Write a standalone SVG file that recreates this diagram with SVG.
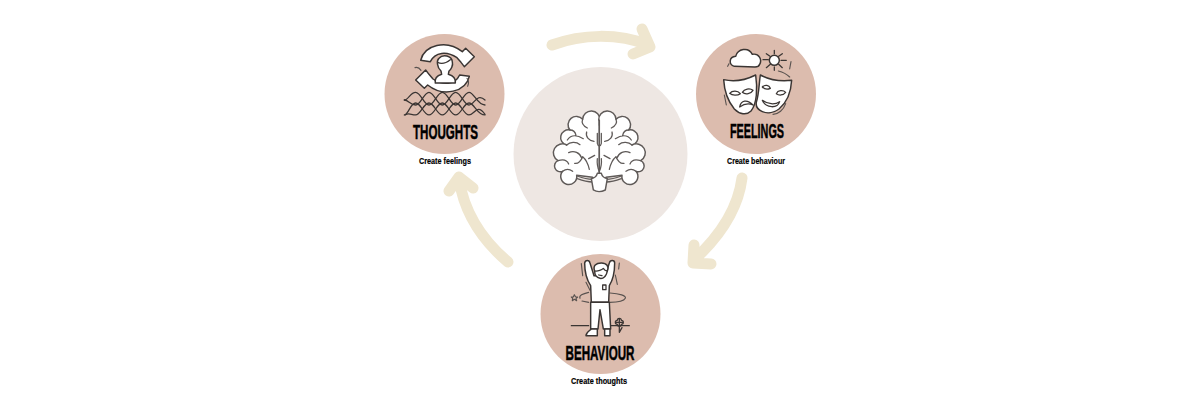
<svg xmlns="http://www.w3.org/2000/svg" xmlns:xlink="http://www.w3.org/1999/xlink" width="1200" height="400" viewBox="0 0 1200 400">
<style>
.disc{fill:#dcbcae}
.hub{fill:#eee7e3}
.flow{fill:none;stroke:#efe6cf;stroke-width:11;stroke-linecap:round;stroke-linejoin:round}
.ink{fill:#fff;stroke:#3a3533;stroke-width:4.4;stroke-linejoin:round;stroke-linecap:round}
.line{fill:none;stroke:#3a3533;stroke-width:3.8;stroke-linejoin:round;stroke-linecap:round}
.soft{fill:none;stroke:#5a5350;stroke-width:3.4;stroke-linecap:round;stroke-linejoin:round}
.brain{stroke:#5f5a58}
.title{font-family:"Liberation Sans Narrow","Liberation Sans",sans-serif;font-weight:700;font-size:20px;fill:#000;stroke:#000;stroke-width:.5;text-anchor:middle}
.sub{font-family:"Liberation Sans Narrow","Liberation Sans",sans-serif;font-weight:700;font-size:9.5px;fill:#000;stroke:#000;stroke-width:.2;text-anchor:middle}
</style>
<defs>
<path id="turn" class="ink" d="M137 106C148 60 214 42 262 80L272 70L298 95L268 125L258 112L246 98C216 78 180 80 166 110Z"/>
<g id="brain-half">
<path class="ink brain" d="M180 60A1 1 0 0 0 128 58A1 1 0 0 0 90 90A1 1 0 0 0 80 135A1 1 0 0 0 54 182A1 1 0 0 0 68 214A24 24 0 1 0 110 226L158 232L178 240V60Z"/>
<path class="line brain" d="M128 58C124 68 130 78 142 84M90 90C98 90 106 96 108 106M80 135C90 126 108 124 120 134M82 120C94 102 114 106 130 116M140 96C136 110 146 122 162 124M54 182C72 176 82 182 86 192M86 158C102 150 120 158 126 176M104 190C114 192 122 184 128 170M128 170C138 178 144 190 148 208M146 176L164 166M172 176C170 196 174 206 178 214M68 214C78 206 90 208 98 214"/>
<path class="line brain" d="M112 228C128 234 144 238 158 238M112 236C128 242 144 246 158 246"/>
</g>
</defs>

<g id="connectors">
<path class="flow" d="M552 45C582 34 618 33 648 45M642 29L650 47L633 54"/>
<path class="flow" d="M742 178C738 210 720 236 694 260M694 245L693 263L711 264"/>
<path class="flow" d="M508 262C482 240 464 212 459 179M449 191L459 177L473 188"/>
</g>

<g id="hub">
<circle class="hub" cx="600.5" cy="154" r="87"/>
<g transform="translate(540 100) scale(.3333)">
<use xlink:href="#brain-half" href="#brain-half"/>
<use xlink:href="#brain-half" href="#brain-half" transform="translate(356 0) scale(-1 1)"/>
<path class="ink brain" d="M154 236C164 234 170 228 172 220H184C186 228 192 234 202 236L196 270C184 276 170 276 160 270Z"/>
<path class="line brain" d="M172 100V130M184 100V130M172 130C174 140 182 140 184 130M178 62V76"/>
</g>
</g>

<g id="thoughts">
<circle class="disc" cx="444.5" cy="94" r="60"/>
<g transform="translate(375 25) scale(.3333)">
<path class="line" d="M88 225C100 225 106 202 122 202S146 240 162 240S186 202 202 202S226 240 242 240S266 202 282 202S306 240 330 240"/>
<path class="line" d="M88 225C100 225 106 240 122 240S146 202 162 202S186 240 202 240S226 202 242 202S266 240 282 240S306 202 330 225"/>
<path class="line" d="M88 270C100 270 106 234 122 234S146 270 162 270S186 234 202 234S226 270 242 270S266 234 282 234S306 270 330 270"/>
<path class="line" d="M90 270C102 262 108 270 122 270S146 234 162 234S186 270 202 270S226 234 242 234S266 270 282 270S306 234 330 268"/>
<use xlink:href="#turn" href="#turn"/>
<use xlink:href="#turn" href="#turn" transform="rotate(180 210 130)"/>
<path class="ink" d="M181 174C178 158 186 152 200 148L198 138C186 128 184 106 192 100C204 86 230 92 232 110C235 122 228 134 222 138L220 148C234 152 243 158 241 174Z"/>
<path class="line" d="M188 112C200 118 216 112 226 104"/>
<path class="soft" d="M120 128C126 126 134 130 138 136M276 160C282 166 282 174 278 184"/>
</g>
<text class="title" x="445.5" y="138.5" textLength="65" lengthAdjust="spacingAndGlyphs">THOUGHTS</text>
<text class="sub" x="445" y="164" textLength="52" lengthAdjust="spacingAndGlyphs">Create feelings</text>
</g>

<g id="feelings">
<circle class="disc" cx="756" cy="94" r="60"/>
<g transform="translate(685 25) scale(.3333)">
<path class="ink" d="M148 124C130 118 132 96 152 94C158 72 190 64 202 88C222 84 232 104 224 118C222 124 216 126 210 126Z"/>
<circle class="ink" cx="268" cy="106" r="15"/>
<path class="line" d="M234 104H250M268 76V86M268 126V136M244 86L255 94M292 86L281 94M288 106H304M244 128L256 118M292 128L281 118"/>
<path class="soft" d="M318 110L314 132M132 116L128 124M280 138C296 142 308 150 314 156M118 210L124 240M302 236C296 254 280 268 264 268"/>
<path class="ink" d="M116 164C150 172 180 166 212 150C218 190 216 236 198 258C184 272 164 268 148 252C128 228 118 200 116 164Z"/>
<path class="ink" d="M226 150C256 166 286 170 320 166C318 204 304 234 282 252C266 264 246 266 232 260C218 254 212 244 214 232C222 208 222 176 226 150Z"/>
<path class="line" d="M134 205C142 196 158 196 166 206C158 212 142 212 134 205ZM172 202C178 192 194 188 204 196C198 206 182 210 172 202ZM164 246C168 226 186 222 204 240C190 234 178 236 164 246Z"/>
<path class="line" d="M232 186C240 178 252 180 256 190C248 194 240 194 232 186ZM274 206C278 196 294 194 302 202C294 212 282 212 274 206ZM232 226C248 238 270 240 284 230C278 250 244 252 232 226Z"/>
</g>
<text class="title" x="757" y="137.5" textLength="54" lengthAdjust="spacingAndGlyphs">FEELINGS</text>
<text class="sub" x="756" y="163.5" textLength="58" lengthAdjust="spacingAndGlyphs">Create behaviour</text>
</g>

<g id="behaviour">
<circle class="disc" cx="600.5" cy="314" r="60"/>
<g transform="translate(530 245) scale(.3333)">
<path class="line" d="M124 242H176M244 242H298"/>
<path class="soft" d="M154 56L158 92M268 54L266 72M168 112L180 136M256 90L262 118"/>
<path class="soft" d="M176 142C158 146 146 152 150 160M156 168L176 172M240 144C268 146 290 152 286 160C282 168 262 172 240 172"/>
<path class="ink" d="M164 54C166 44 178 44 180 54L192 92H226L238 54C240 44 254 44 254 54C254 78 248 106 238 122L236 172H184L182 122C170 104 164 78 164 54Z"/>
<path class="ink" d="M182 172H238L242 252H220L210 194L204 252H182Z"/>
<path class="ink" d="M168 272C168 262 178 258 184 252H202V272ZM224 252H240V272H224Z"/>
<path class="ink" d="M194 78C188 62 198 54 214 54C230 54 238 64 232 78C230 92 220 102 210 100C200 98 194 90 194 78Z"/>
<path class="line" d="M194 78C204 80 216 74 220 70C222 74 226 78 232 78M206 90L216 92M218 120H228V134H218Z"/>
<path class="line" d="M262 226A6 6 0 1 1 274 226A6 6 0 1 1 274 238A6 6 0 1 1 262 238A6 6 0 1 1 262 226ZM268 222V244M258 232H278M268 244L268 262L276 248"/>
<path class="soft" d="M133 149L137 156L143 156L138 161L140 167L133 163L127 167L128 160L124 156L130 156Z"/>
</g>
<text class="title" x="600" y="360" textLength="69" lengthAdjust="spacingAndGlyphs">BEHAVIOUR</text>
<text class="sub" x="599" y="383.5" textLength="56" lengthAdjust="spacingAndGlyphs">Create thoughts</text>
</g>
</svg>
